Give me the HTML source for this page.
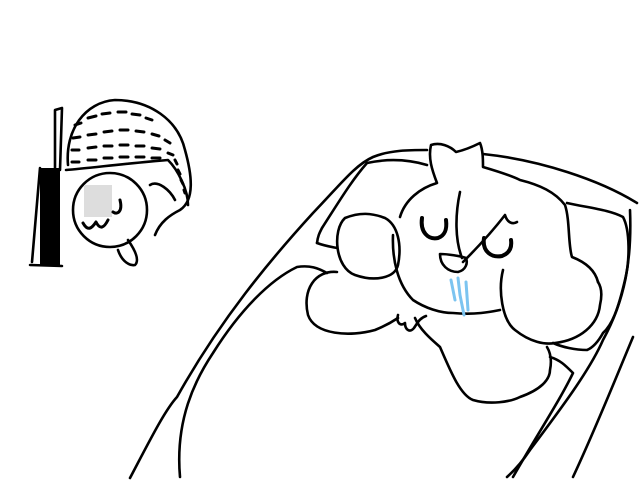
<!DOCTYPE html>
<html><head><meta charset="utf-8"><style>html,body{margin:0;padding:0;background:#fff;}svg{display:block}</style></head>
<body>
<svg width="640" height="480" viewBox="0 0 640 480" xmlns="http://www.w3.org/2000/svg" fill="none" stroke="#000" stroke-width="2.6" stroke-linecap="round" stroke-linejoin="round">
<!-- bed outer -->
<path d="M130 478 C150 440 165 410 177 397 C220 320 270 260 313 213 C340 185 355 165 373 157 C390 150 410 150 427 150"/>
<path d="M483 154 C540 160 600 180 637 203"/>
<path d="M633 337 C615 380 595 430 573 477"/>
<path d="M630 210 C632 260 625 300 603 340 C590 370 560 410 530 450 C522 462 515 470 507 477"/>
<path d="M513 477 C540 430 560 400 573 373 C565 365 560 360 550 357"/>
<!-- bed inner left -->
<path d="M180 477 C175 420 195 380 213 353 C240 310 270 280 297 267 C310 265 318 268 327 273"/>
<!-- pillow -->
<path d="M317 243 C318 235 320 232 322 228 C340 200 352 180 367 163 C390 158 410 160 427 165"/>
<path d="M317 243 C325 246 332 247 337 248"/>
<path d="M567 203 C590 208 610 210 623 217 C630 230 630 260 625 280 C618 310 612 325 603 333 C598 342 592 348 587 350 C575 350 562 347 553 343"/>
<!-- left arm / body -->
<path d="M337 272 C315 270 302 290 308 315 C315 335 350 337 375 330 C385 326 392 322 398 318"/>
<path d="M415 318 C420 330 432 340 440 347 C450 370 460 395 473 400 C490 405 510 402 520 397 C540 390 550 380 550 370 C552 360 550 352 547 347"/>
<!-- left cheek -->
<path d="M345 218 C332 230 335 268 355 275 C375 282 395 278 398 265 C402 245 398 225 385 218 C372 213 360 212 345 218"/>
<!-- hand -->
<path d="M398 315 C396 322 400 327 405 323 C405 330 410 333 414 328 C418 322 420 318 426 316"/>
<!-- head -->
<path d="M400 217 C405 200 420 188 437 183 C432 170 428 158 431 145 C440 142 450 146 456 152 C465 150 474 146 480 143 C483 150 483 160 483 167 C500 172 512 176 520 180 C540 185 555 192 565 205 C570 220 568 245 572 257 C585 262 595 270 598 282"/>
<path d="M393 235 C392 260 398 285 413 300 C425 308 440 313 453 313 C475 315 490 312 500 310"/>
<path d="M460 192 C455 215 455 240 462 258 M463 262 C480 245 495 228 505 215 C507 222 512 225 517 222"/>
<!-- right cheek -->
<path d="M503 270 C498 290 502 320 515 330 C530 342 545 345 555 343 C580 340 598 325 600 305 C603 292 600 285 598 282"/>
<!-- eyes -->
<path d="M422 218 C420 232 428 240 438 238 C446 235 447 228 446 220" stroke-width="4"/>
<path d="M484 238 C482 252 492 258 502 256 C510 253 512 247 511 240" stroke-width="4"/>
<!-- nose/mouth -->
<path d="M440 254 C440 265 448 272 458 272 C466 270 468 263 466 258 C460 256 448 254 440 254"/>
<!-- drool -->
<path d="M451 280 L455 300 M458 278 L460 295 L464 315 M466 282 L468 310" stroke="#7cc4f0" stroke-width="3"/>
<!-- helmet figure -->
<rect x="40" y="168" width="20" height="98" fill="#000" stroke="none"/>
<path d="M32 262 L40 168 M55 168 L55 110 L62 108 L60 170 M30 265 L62 266"/>
<path d="M68 165 C65 130 85 102 115 100 C150 100 178 120 185 150 C192 175 195 200 180 210 C170 215 160 222 155 235"/>
<path d="M66 170 C90 168 130 163 168 160 C178 170 188 190 188 205"/>
<circle cx="110" cy="210" r="37"/>
<path d="M128 240 C135 250 140 260 135 265 C130 266 122 262 118 250"/>
<path d="M150 185 C158 180 170 190 175 200"/>
<rect x="84" y="185" width="28" height="32" fill="#ddd" stroke="none"/>
<path d="M83 223 C88 232 92 228 96 222 C100 230 104 228 108 220 M120 200 C123 212 117 215 113 212" stroke-width="3"/>
<g stroke-width="3">
<path d="M75 125 l6 -2 M88 118 l8 -2 M102 114 l8 -1 M118 112 l8 0 M132 114 l8 1 M146 118 l6 2"/>
<path d="M73 138 l7 -1 M88 135 l8 -1 M104 132 l8 -1 M120 130 l8 0 M136 131 l8 1 M152 134 l7 2 M165 140 l5 3"/>
<path d="M72 150 l7 0 M88 148 l8 -1 M104 146 l8 0 M120 145 l8 0 M136 146 l8 0 M152 148 l8 1 M168 153 l5 2"/>
<path d="M72 162 l7 0 M88 160 l8 0 M104 158 l8 0 M120 157 l8 0 M136 157 l8 0 M152 158 l8 0"/>
<path d="M175 160 l2 4 M178 170 l2 4 M181 180 l2 4 M184 190 l1 3"/>
</g>
</svg>
</body></html>
